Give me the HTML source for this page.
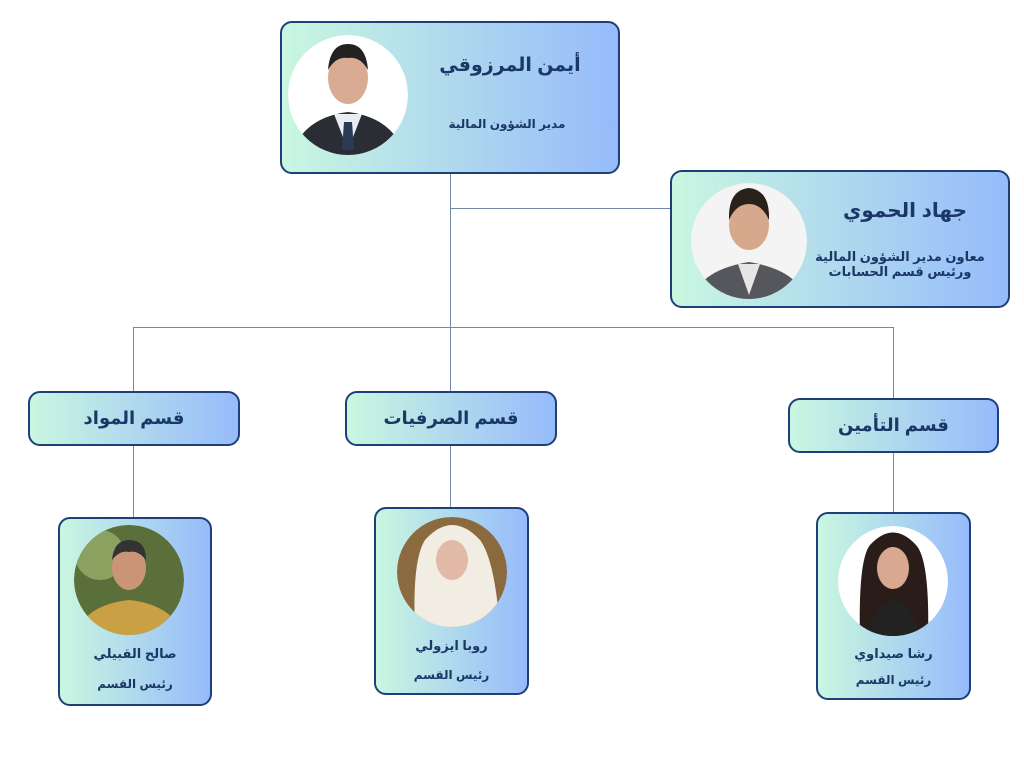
<!DOCTYPE html>
<html><head><meta charset="utf-8"><style>
body{margin:0;width:1024px;height:768px;background:#fff;position:relative;overflow:hidden;font-family:"Liberation Sans","DejaVu Sans",sans-serif;color:#1b3768;}
.b{position:absolute;box-sizing:border-box;border:2px solid #1f3f7a;border-radius:12px;background:linear-gradient(90deg,#c9f7e0,#96bbfb);}
.t{position:absolute;font-weight:bold;text-align:center;white-space:nowrap;direction:rtl;}
.l{position:absolute;background:#7487a6;}
svg{position:absolute;}
</style></head><body>
<div class="l" style="left:450px;top:173px;width:1px;height:155px"></div>
<div class="l" style="left:451px;top:208px;width:220px;height:1px"></div>
<div class="l" style="left:133px;top:327px;width:761px;height:1px"></div>
<div class="l" style="left:133px;top:327px;width:1px;height:64px"></div>
<div class="l" style="left:450px;top:327px;width:1px;height:64px"></div>
<div class="l" style="left:893px;top:327px;width:1px;height:71px"></div>
<div class="l" style="left:133px;top:445px;width:1px;height:72px"></div>
<div class="l" style="left:450px;top:445px;width:1px;height:62px"></div>
<div class="l" style="left:893px;top:452px;width:1px;height:60px"></div>

<div class="b" style="left:280px;top:21px;width:340px;height:153px"></div>
<div class="t" style="left:420px;top:54px;width:180px;font-size:19px">أيمن  المرزوقي</div>
<div class="t" style="left:412px;top:117px;width:190px;font-size:12px">مدير  الشؤون  المالية</div>

<div class="b" style="left:670px;top:170px;width:340px;height:138px"></div>
<div class="t" style="left:830px;top:198px;width:150px;font-size:20px">جهاد  الحموي</div>
<div class="t" style="left:810px;top:249px;width:180px;font-size:13px;line-height:15px">معاون  مدير  الشؤون  المالية<br>ورئيس  قسم  الحسابات</div>

<div class="b" style="left:28px;top:391px;width:212px;height:55px"></div>
<div class="t" style="left:28px;top:408px;width:212px;font-size:18px">قسم المواد</div>
<div class="b" style="left:345px;top:391px;width:212px;height:55px"></div>
<div class="t" style="left:345px;top:408px;width:212px;font-size:18px">قسم الصرفيات</div>
<div class="b" style="left:788px;top:398px;width:211px;height:55px"></div>
<div class="t" style="left:788px;top:415px;width:211px;font-size:18px">قسم التأمين</div>

<div class="b" style="left:58px;top:517px;width:154px;height:189px"></div>
<div class="t" style="left:58px;top:646px;width:154px;font-size:13px">صالح  القبيلي</div>
<div class="t" style="left:58px;top:677px;width:154px;font-size:12px">رئيس  القسم</div>
<div class="b" style="left:374px;top:507px;width:155px;height:188px"></div>
<div class="t" style="left:374px;top:638px;width:155px;font-size:13px">روبا  ايزولي</div>
<div class="t" style="left:374px;top:668px;width:155px;font-size:12px">رئيس  القسم</div>
<div class="b" style="left:816px;top:512px;width:155px;height:188px"></div>
<div class="t" style="left:816px;top:646px;width:155px;font-size:13px">رشا  صيداوي</div>
<div class="t" style="left:816px;top:673px;width:155px;font-size:12px">رئيس  القسم</div>

<svg width="1024" height="768" style="left:0;top:0">
<defs>
<clipPath id="c1"><circle cx="348" cy="95" r="60"/></clipPath>
<clipPath id="c2"><circle cx="749" cy="241" r="58"/></clipPath>
<clipPath id="c3"><circle cx="129" cy="580" r="55"/></clipPath>
<clipPath id="c4"><circle cx="452" cy="572" r="55"/></clipPath>
<clipPath id="c5"><circle cx="893" cy="581" r="55"/></clipPath>
</defs>
<g clip-path="url(#c1)"><circle cx="348" cy="95" r="60" fill="#fff"/>
<path d="M290 160 Q300 118 348 112 Q396 118 406 160Z" fill="#2a2d33"/>
<path d="M334 114 L348 150 L362 114Z" fill="#e8ecf3"/><path d="M344 122 L352 122 L354 150 L342 150Z" fill="#2b3a55"/>
<ellipse cx="348" cy="78" rx="20" ry="26" fill="#d8ab92"/><path d="M328 70 Q330 44 348 44 Q366 44 368 70 Q360 56 348 58 Q336 56 328 70Z" fill="#222"/></g>
<g clip-path="url(#c2)"><circle cx="749" cy="241" r="58" fill="#f4f4f4"/>
<path d="M692 300 Q700 270 749 262 Q798 270 806 300Z" fill="#55575c"/>
<path d="M738 264 L749 295 L760 264Z" fill="#e6e6e6"/>
<ellipse cx="749" cy="225" rx="20" ry="25" fill="#d6a98c"/><path d="M729 220 Q728 190 749 188 Q770 190 769 220 Q762 204 749 204 Q736 204 729 220Z" fill="#2a211d"/></g>
<g clip-path="url(#c3)"><circle cx="129" cy="580" r="55" fill="#5b6f3a"/><circle cx="100" cy="555" r="25" fill="#8aa160"/>
<path d="M74 640 Q82 605 129 600 Q176 605 184 640Z" fill="#c9a043"/>
<ellipse cx="129" cy="568" rx="17" ry="22" fill="#c99576"/><path d="M112 560 Q114 540 129 540 Q146 540 146 560 Q138 550 129 552 Q120 550 112 560Z" fill="#333"/></g>
<g clip-path="url(#c4)"><circle cx="452" cy="572" r="55" fill="#8a6a3e"/>
<path d="M415 630 Q412 560 425 540 Q452 510 480 540 Q495 560 500 630Z" fill="#f1ede2"/>
<ellipse cx="452" cy="560" rx="16" ry="20" fill="#e2b9a6"/></g>
<g clip-path="url(#c5)"><circle cx="893" cy="581" r="55" fill="#fff"/>
<path d="M860 640 Q858 560 870 545 Q893 520 916 545 Q930 560 928 640Z" fill="#2a1c18"/>
<ellipse cx="893" cy="568" rx="16" ry="21" fill="#d9a890"/><path d="M865 640 Q872 605 893 600 Q914 605 921 640Z" fill="#222"/></g>
</svg>
</body></html>
